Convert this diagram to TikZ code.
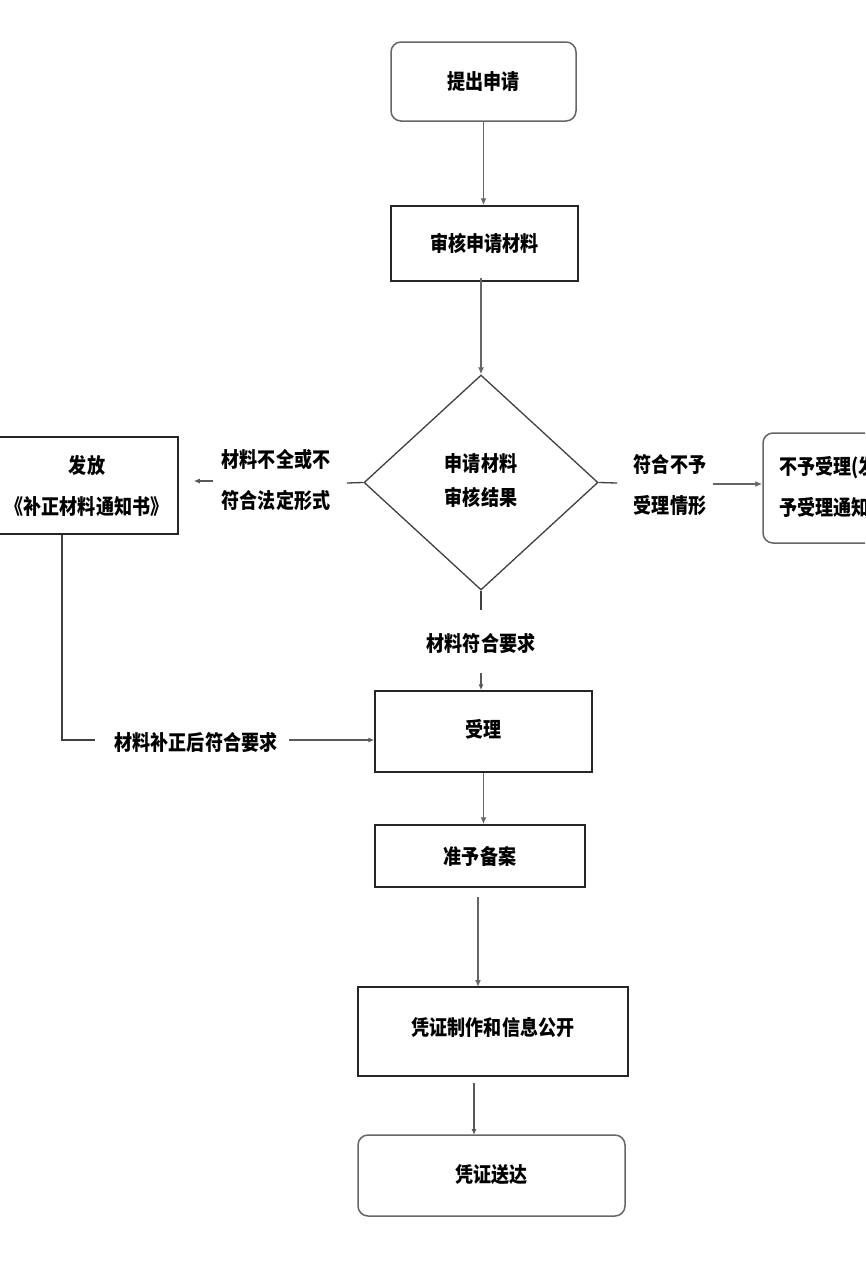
\documentclass[tikz,border=0pt]{standalone}
\usepackage{fontspec}
\setmainfont{Noto Sans CJK SC}[FakeStretch=0.86]
\usetikzlibrary{shapes.geometric,arrows.meta}
\newcommand{\fs}{\fontsize{21}{41}\selectfont\bfseries}
\tikzset{
  base/.style={draw=black!85, line width=1.5pt, font=\fs, inner sep=0pt, align=center},
  rbox/.style={base, rounded corners=10pt, draw=black!60},
  sbox/.style={base},
  dbox/.style={base, diamond, draw=black!75, line width=1.3pt},
  lbl/.style={font=\fs, align=center, inner sep=0pt},
  arr/.style={draw=black!60, line width=1.8pt, -{Latex[length=7pt,width=6pt]}},
  tarr/.style={draw=black!65, line width=1.1pt, -{Latex[length=6pt,width=5pt]}},
  ln/.style={draw=black!75, line width=1.3pt}
}
\begin{document}
\begin{tikzpicture}[x=1pt,y=-1pt]
\useasboundingbox (0,0) rectangle (865,1288);
\clip (0,0) rectangle (865,1288);
\fill[white] (0,0) rectangle (865,1288);

\node[rbox, minimum width=185pt, minimum height=79pt] (n1) at (483.5,81.5) {\raisebox{2pt}{提出申请}};
\node[sbox, minimum width=187pt, minimum height=75pt] (n2) at (484.5,243.5) {审核申请材料};
\node[dbox, minimum width=234pt, minimum height=215pt] (d) at (481,482.5) {\raisebox{6pt}{\shortstack{申请材料\\[10pt]审核结果}}};
\node[sbox, minimum width=182pt, minimum height=97pt] (left) at (87,485.5) {发放\\《补正材料通知书》};
\node[rbox, minimum width=178pt, minimum height=110pt, text width=146pt, align=left] (right) at (852,488) {不予受理(发放不\\予受理通知书)};

\node[lbl] (L1) at (276,480) {材料不全或不\\符合法定形式};
\node[lbl] (R1) at (670,485) {符合不予\\受理情形};
\node[lbl] (M1) at (481,643) {材料符合要求};
\node[lbl] (B1) at (196,742) {材料补正后符合要求};

\node[sbox, minimum width=217pt, minimum height=81pt] (n3) at (483.5,731.5) {\raisebox{7pt}{受理}};
\node[sbox, minimum width=210pt, minimum height=62pt] (n4) at (480,856) {准予备案};
\node[sbox, minimum width=270pt, minimum height=89pt] (n5) at (493,1031.5) {\raisebox{10pt}{凭证制作和信息公开}};
\node[rbox, minimum width=267pt, minimum height=81pt] (n6) at (491.5,1175.5) {\raisebox{4pt}{凭证送达}};

\coordinate (ls) at (347,483);
\coordinate (rs) at (617,483);
\coordinate (bs) at (481,610);
\coordinate (mt) at (481,673);
\coordinate (lc) at (62,740);
\coordinate (le) at (95,740);

\draw[arr] (n1.south) -- (n1.south |- n2.north);
\draw[arr] ([yshift=4pt]n2.south -| d.north) -- (d.north);
\draw[ln] (d.west) -- (ls);
\draw[tarr] ([xshift=-9pt]L1.west |- 0,481) -- ([xshift=15pt]left.east |- 0,481);
\draw[ln] (d.east) -- (rs);
\draw[arr] (713,484) -- (right.west |- 0,484);
\draw[ln] (d.south) -- (bs);
\draw[tarr] (mt) -- (mt |- n3.north);
\draw[ln] (left.south -| lc) -- (lc) -- (le);
\draw[tarr] ([xshift=12pt]B1.east |- lc) -- (n3.west |- lc);
\draw[arr] (n3.south) -- (n3.south |- n4.north);
\draw[arr] (478,897) -- (478,987);
\draw[tarr] (474,1083) -- (474,1135);
\end{tikzpicture}
\end{document}
